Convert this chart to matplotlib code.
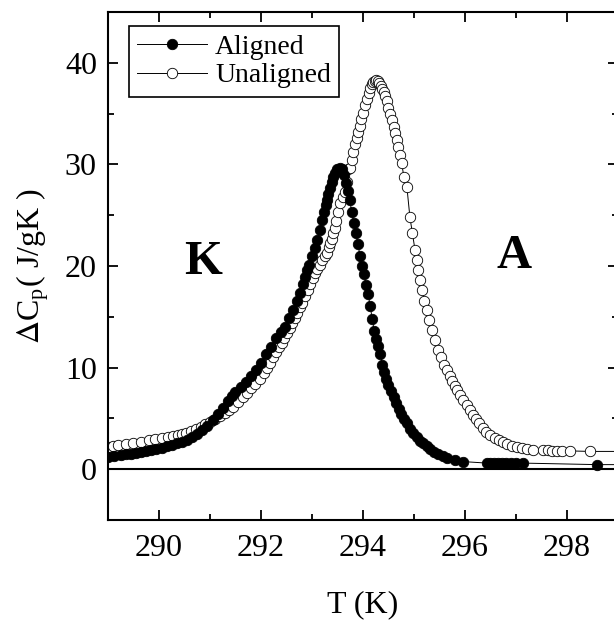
import matplotlib
matplotlib.use("Agg")
import matplotlib.pyplot as plt
from matplotlib.ticker import MultipleLocator

# aligned sample: temperature (K) and excess heat capacity (J/gK)
aligned_T = [
    289.00, 289.12, 289.25, 289.35, 289.45, 289.55, 289.65, 289.75, 289.85, 289.95,
    290.05, 290.15, 290.25, 290.35, 290.45, 290.55, 290.65, 290.75, 290.85, 290.95,
    291.05, 291.15, 291.25, 291.35, 291.43, 291.50, 291.60, 291.70, 291.80, 291.90,
    292.00, 292.10, 292.20, 292.30, 292.40, 292.47, 292.55, 292.63, 292.70, 292.76,
    292.82, 292.86, 292.90, 292.94, 293.00, 293.05, 293.10, 293.15, 293.20, 293.24,
    293.27, 293.29, 293.32, 293.35, 293.39, 293.42, 293.46, 293.50, 293.54, 293.58,
    293.62, 293.66, 293.70, 293.74, 293.78, 293.82, 293.86, 293.90, 293.94, 293.98,
    294.02, 294.06, 294.10, 294.14, 294.18, 294.22, 294.26, 294.30, 294.34, 294.38,
    294.42, 294.46, 294.50, 294.55, 294.60, 294.65, 294.70, 294.75, 294.80, 294.86,
    294.92, 294.98, 295.05, 295.12, 295.18, 295.25, 295.32, 295.40, 295.48, 295.56,
    295.65, 295.80, 295.96, 296.43, 296.50, 296.57, 296.64, 296.72, 296.80, 296.90,
    297.00, 297.14, 298.59, 299.40,
]
aligned_cp = [
    1.2, 1.3, 1.4, 1.45, 1.5, 1.6, 1.7, 1.8, 1.9, 2.0,
    2.1, 2.25, 2.4, 2.55, 2.7, 2.9, 3.2, 3.5, 3.9, 4.3,
    4.8, 5.4, 6.0, 6.7, 7.2, 7.6, 8.1, 8.6, 9.2, 9.8,
    10.5, 11.3, 12.0, 12.9, 13.5, 14.0, 14.9, 15.7, 16.6, 17.3,
    18.2, 18.9, 19.6, 20.1, 21.0, 21.8, 22.6, 23.5, 24.5, 25.3,
    26.0, 26.5, 27.1, 27.7, 28.3, 28.8, 29.2, 29.5, 29.65, 29.5,
    29.0, 28.2, 27.4, 26.5, 25.3, 24.2, 23.2, 22.2, 21.0, 20.0,
    19.2, 18.1, 17.2, 16.1, 14.8, 13.6, 12.8, 12.1, 11.3, 10.3,
    9.6, 8.9, 8.3, 7.7, 7.1, 6.5, 5.9, 5.4, 4.9, 4.5,
    4.0, 3.6, 3.2, 2.8, 2.6, 2.3, 2.0, 1.7, 1.5, 1.3,
    1.1, 0.9, 0.75, 0.6, 0.6, 0.6, 0.6, 0.6, 0.6, 0.6,
    0.6, 0.6, 0.45, 0.45,
]

# unaligned sample
unaligned_T = [
    289.00, 289.10, 289.20, 289.35, 289.50, 289.65, 289.80, 289.92, 290.05, 290.18,
    290.28, 290.37, 290.45, 290.53, 290.63, 290.73, 290.82, 290.90, 291.00, 291.10,
    291.20, 291.29, 291.37, 291.45, 291.55, 291.65, 291.72, 291.80, 291.88, 291.98,
    292.05, 292.12, 292.18, 292.24, 292.30, 292.36, 292.41, 292.46, 292.51, 292.56,
    292.61, 292.66, 292.71, 292.76, 292.80, 292.86, 292.92, 292.97, 293.02, 293.06,
    293.10, 293.15, 293.20, 293.25, 293.29, 293.33, 293.36, 293.39, 293.42, 293.45,
    293.48, 293.51, 293.55, 293.60, 293.65, 293.68, 293.71, 293.74, 293.78, 293.81,
    293.85, 293.88, 293.91, 293.94, 293.97, 294.00, 294.04, 294.08, 294.11, 294.14,
    294.17, 294.20, 294.23, 294.26, 294.29, 294.32, 294.35, 294.38, 294.41, 294.44,
    294.47, 294.50, 294.53, 294.57, 294.60, 294.63, 294.66, 294.69, 294.72, 294.76,
    294.80, 294.86, 294.92, 294.97, 295.02, 295.05, 295.08, 295.12, 295.16, 295.20,
    295.25, 295.30, 295.35, 295.41, 295.47, 295.53, 295.59, 295.65, 295.70, 295.75,
    295.80, 295.84, 295.90, 295.96, 296.03, 296.10, 296.16, 296.22, 296.28, 296.35,
    296.42, 296.50, 296.58, 296.66, 296.74, 296.82, 296.92, 297.02, 297.12, 297.22,
    297.33, 297.53, 297.62, 297.70, 297.80, 297.90, 298.06, 298.45, 299.40,
]
unaligned_cp = [
    2.2, 2.3, 2.4, 2.5, 2.6, 2.7, 2.85, 3.0, 3.1, 3.2,
    3.3, 3.4, 3.5, 3.6, 3.8, 4.0, 4.2, 4.4, 4.65, 4.9,
    5.2, 5.5, 5.8, 6.1, 6.6, 7.1, 7.5, 8.0, 8.4, 8.9,
    9.5, 10.0, 10.5, 11.0, 11.5, 12.0, 12.4, 12.9, 13.4, 13.9,
    14.4, 14.9, 15.4, 16.0, 16.4, 17.0, 17.6, 18.2, 18.8, 19.3,
    19.7, 20.1, 20.6, 21.0, 21.3, 21.9, 22.3, 22.7, 23.2, 23.7,
    24.4, 25.3, 26.2, 26.8, 27.3, 28.3, 29.5, 29.6, 30.4, 31.2,
    32.0, 32.6, 33.2, 33.8, 34.5, 35.1, 35.8, 36.4, 37.0, 37.5,
    37.9, 38.1, 38.25, 38.3, 38.2, 38.0, 37.7, 37.4, 37.1, 36.7,
    36.2, 35.6, 35.0, 34.4, 33.7, 33.1, 32.4, 31.7, 30.9, 30.1,
    28.8, 27.8, 24.8, 23.2, 21.6, 20.6, 19.6, 18.6, 17.6, 16.6,
    15.7, 14.7, 13.7, 12.7, 11.7, 11.0, 10.3, 9.75, 9.2, 8.7,
    8.2, 7.8, 7.3, 6.8, 6.3, 5.8, 5.3, 4.9, 4.5, 4.1,
    3.7, 3.4, 3.1, 2.9, 2.7, 2.5, 2.3, 2.2, 2.1, 2.0,
    1.9, 1.85, 1.85, 1.8, 1.8, 1.8, 1.8, 1.75, 1.75,
]

plt.rcParams["font.family"] = ["Liberation Serif", "DejaVu Serif"]
plt.rcParams["mathtext.fontset"] = "stix"

fig = plt.figure(figsize=(6.14, 6.21), dpi=100)
ax = fig.add_axes([108 / 614, 1 - 520 / 621, 510 / 614, 508 / 621])

ax.plot(aligned_T, aligned_cp, "-", color="black", lw=0.7, marker="o", ms=7.5,
        mfc="black", mec="black", mew=0.6, label="Aligned", zorder=3)
ax.plot(unaligned_T, unaligned_cp, "-", color="black", lw=0.7, marker="o", ms=7.5,
        mfc="white", mec="black", mew=0.6, label="Unaligned", zorder=2)
ax.axhline(0, color="black", lw=1.5, zorder=1)

ax.set_xlim(289, 299)
ax.set_ylim(-5, 45)
ax.xaxis.set_major_locator(MultipleLocator(2))
ax.xaxis.set_minor_locator(MultipleLocator(1))
ax.yaxis.set_major_locator(MultipleLocator(10))
ax.yaxis.set_minor_locator(MultipleLocator(5))
ax.tick_params(which="both", direction="in", top=True, right=True, width=1.3,
               labelsize=23, pad=8)
ax.tick_params(axis="x", pad=10)
ax.tick_params(which="major", length=7)
ax.tick_params(which="minor", length=4)
for sp in ax.spines.values():
    sp.set_linewidth(1.5)

ax.set_xlabel("T (K)", fontsize=23, labelpad=20)
ax.set_ylabel(r"$\Delta$C$_\mathregular{p}$( J/gK )", fontsize=23, labelpad=10)

ax.text(290.86, 20.4, "K", fontsize=35, fontweight="bold", ha="center", va="center")
ax.text(296.96, 21.0, "A", fontsize=35, fontweight="bold", ha="center", va="center")

leg = ax.legend(loc="upper left", bbox_to_anchor=(0.041, 0.972), fontsize=20,
                frameon=True, fancybox=False, edgecolor="black", framealpha=1,
                handlelength=2.5, handletextpad=0.3, borderpad=0.3,
                labelspacing=0.1, borderaxespad=0)
leg.get_frame().set_linewidth(1.2)

fig.savefig("out.png", dpi=100)
